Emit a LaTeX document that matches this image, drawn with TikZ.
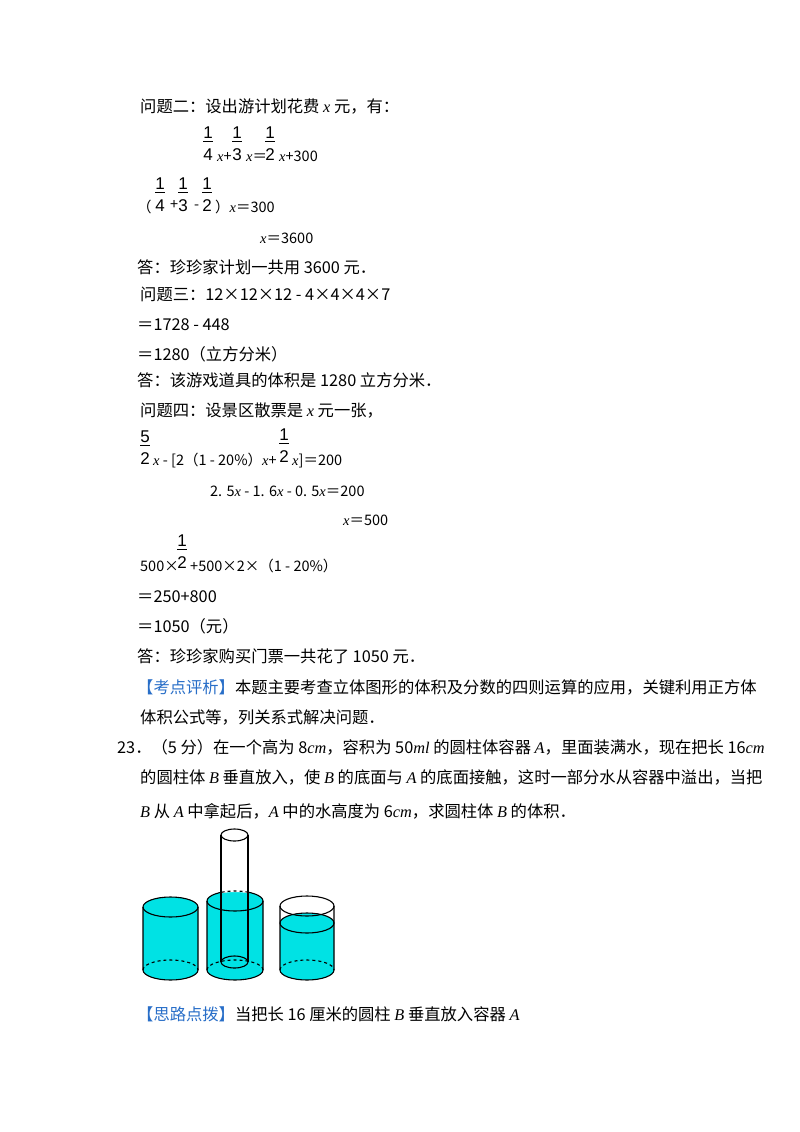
\documentclass[tikz,border=0pt]{standalone}
\usepackage{fontspec}
\setmainfont{Noto Sans CJK SC}
\newfontfamily\ser{Liberation Serif}
\newfontfamily\fsans{Liberation Sans}
\newcommand\vx{{\ser\itshape x}}
\newcommand\sv[1]{{\ser\itshape #1}}
\definecolor{water}{RGB}{0,226,228}
\definecolor{tagblue}{RGB}{40,110,200}
\tikzset{
  txt/.style={anchor=base west,inner sep=0pt,font=\fontsize{16.3}{18}\selectfont},
  eq/.style={anchor=base west,inner sep=0pt,font=\fontsize{14.5}{16}\selectfont},
  fr/.style={anchor=base,inner sep=0pt,font=\fsans\fontsize{17}{18}\selectfont},
  cyl/.style={line width=1.1pt},
}
\newcommand\Fr[5]{% name, x, ydenombaseline, num, den
  \node[fr] (#1n) at (#2,-#3+22) {#4};
  \node[fr] (#1d) at (#2,-#3) {#5};
  \draw[line width=0.8pt] ([yshift=-3pt,xshift=-5pt]#1n.south) -- ([yshift=-3pt,xshift=5pt]#1n.south);
}
\begin{document}
\begin{tikzpicture}[x=1pt,y=1pt]
\useasboundingbox[fill=white] (0,0) rectangle (800,-1132);
\node[txt] (l1) at (140,-112) {问题二：设出游计划花费 \vx\ 元，有：};
\Fr{fa}{208}{160}{1}{4}
\node[eq] (e1a) at (217,-161) {\vx+};
\Fr{fb}{237}{160}{1}{3}
\node[eq] (e1b) at (246,-161) {\vx＝};
\Fr{fc}{270}{160}{1}{2}
\node[eq] (e1c) at (279,-161) {\vx+300};
\node[eq] (e2a) at (137,-212) {（};
\Fr{fd}{160}{211}{1}{4}
\node[eq] (e2b) at (170,-209) {+};
\Fr{fe}{183}{211}{1}{3}
\node[eq] (e2c) at (194,-209) {-};
\Fr{ff}{207}{211}{1}{2}
\node[eq] (e2d) at (215,-212) {）\vx＝300};
\node[eq] (e3) at (260,-243) {\vx＝3600};
\node[txt] (l4) at (137,-273) {答：珍珍家计划一共用 3600 元．};
\node[txt] (l5) at (140,-300) {问题三：12×12×12 - 4×4×4×7};
\node[txt] (l6) at (137,-330) {＝1728 - 448};
\node[txt] (l7) at (137,-360) {＝1280（立方分米）};
\node[txt] (l8) at (137,-386) {答：该游戏道具的体积是 1280 立方分米．};
\node[txt] (l9) at (140,-416) {问题四：设景区散票是 \vx\ 元一张，};
\Fr{fg}{145}{464}{5}{2}
\node[eq] (e4a) at (153,-465) {\vx\ - [2（1 - 20\%）\vx+};
\Fr{fh}{284}{462}{1}{2}
\node[eq] (e4b) at (292,-465) {\vx]＝200};
\node[eq] (e5) at (210,-496) {2. 5\vx\ - 1. 6\vx\ - 0. 5\vx＝200};
\node[eq] (e6) at (343,-525) {\vx＝500};
\node[eq] (e7a) at (140,-571) {500×};
\Fr{fi}{182}{568}{1}{2}
\node[eq] (e7b) at (190,-571) {+500×2×（1 - 20\%）};
\node[txt] (l10) at (137,-602) {＝250+800};
\node[txt] (l11) at (137,-632) {＝1050（元）};
\node[txt] (l12) at (137,-662) {答：珍珍家购买门票一共花了 1050 元．};
\node[txt] (l13) at (137,-693) {{\color{tagblue}【考点评析】}本题主要考查立体图形的体积及分数的四则运算的应用，关键利用正方体};
\node[txt] (l14) at (140,-723) {体积公式等，列关系式解决问题．};
\node[txt] (l15) at (117,-753) {23．（5 分）在一个高为 8\sv{cm}，容积为 50\sv{ml} 的圆柱体容器 \sv{A}，里面装满水，现在把长 16\sv{cm}};
\node[txt] (l16) at (140,-783) {的圆柱体 \sv{B} 垂直放入，使 \sv{B} 的底面与 \sv{A} 的底面接触，这时一部分水从容器中溢出，当把};
\node[txt] (l17) at (140,-817) {\sv{B} 从 \sv{A} 中拿起后，\sv{A} 中的水高度为 6\sv{cm}，求圆柱体 \sv{B} 的体积．};
\node[txt] (l18) at (137,-1020) {{\color{tagblue}【思路点拨】}当把长 16 厘米的圆柱 \sv{B} 垂直放入容器 \sv{A}};
% left cylinder
\begin{scope}[cyl]
\fill[water] (143,-907) -- (143,-970) arc[start angle=180,end angle=360,x radius=27.5,y radius=10] -- (198,-907) arc[start angle=0,end angle=180,x radius=27.5,y radius=10];
\draw (170.5,-907) ellipse[x radius=27.5,y radius=10];
\draw (143,-907) -- (143,-970) arc[start angle=180,end angle=360,x radius=27.5,y radius=10] -- (198,-907);
\draw[dashed] (143,-970) arc[start angle=180,end angle=0,x radius=27.5,y radius=10];
% middle container A
\fill[water] (207,-901) -- (207,-970) arc[start angle=180,end angle=360,x radius=28,y radius=10] -- (263,-901) arc[start angle=0,end angle=180,x radius=28,y radius=10];
\draw (235,-901) ellipse[x radius=28,y radius=10];
\draw (207,-901) -- (207,-970) arc[start angle=180,end angle=360,x radius=28,y radius=10] -- (263,-901);
\draw[dashed] (207,-970) arc[start angle=180,end angle=0,x radius=28,y radius=10];
\begin{scope}
\clip (221,-880) rectangle (248,-905);
\draw[white,line width=2pt] (207,-901) arc[start angle=180,end angle=0,x radius=28,y radius=10];
\draw[dashed] (207,-901) arc[start angle=180,end angle=0,x radius=28,y radius=10];
\end{scope}
\draw (234.5,-835) ellipse[x radius=13.5,y radius=6];
\draw (221,-835) -- (221,-962);
\draw (248,-835) -- (248,-962);
\draw (234.5,-962) ellipse[x radius=13.5,y radius=6];
% right container
\fill[water] (280,-923) -- (280,-970) arc[start angle=180,end angle=360,x radius=27,y radius=10] -- (334,-923) arc[start angle=0,end angle=180,x radius=27,y radius=10];
\fill[water] (307,-923) ellipse[x radius=27,y radius=10];
\draw (307,-906) ellipse[x radius=27,y radius=10];
\draw (307,-923) ellipse[x radius=27,y radius=10];
\draw (280,-906) -- (280,-970) arc[start angle=180,end angle=360,x radius=27,y radius=10] -- (334,-906);
\draw[dashed] (280,-970) arc[start angle=180,end angle=0,x radius=27,y radius=10];
\end{scope}
\end{tikzpicture}
\end{document}
